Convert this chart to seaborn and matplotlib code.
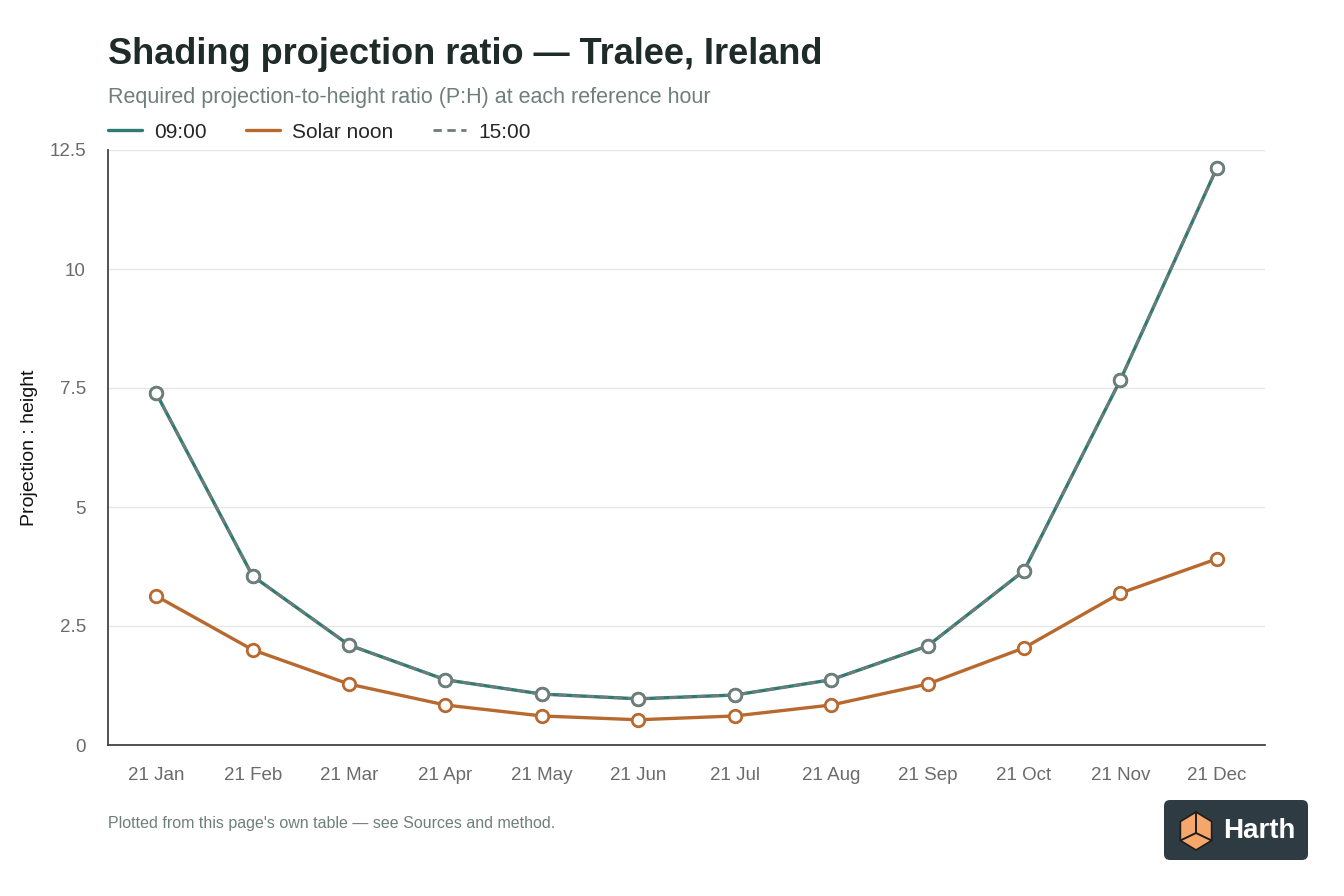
import numpy as np
import pandas as pd
import matplotlib
matplotlib.use('Agg')
import matplotlib.pyplot as plt
from matplotlib.patches import FancyBboxPatch, Polygon
from matplotlib.lines import Line2D
import seaborn as sns

sns.set_style('white')
plt.rcParams['font.family'] = ['Liberation Sans', 'DejaVu Sans']

# data
months = ['21 Jan', '21 Feb', '21 Mar', '21 Apr', '21 May', '21 Jun',
          '21 Jul', '21 Aug', '21 Sep', '21 Oct', '21 Nov', '21 Dec']
ratio_0900 = [7.39, 3.55, 2.10, 1.37, 1.07, 0.97, 1.05, 1.37, 2.08, 3.66, 7.67, 12.12]
ratio_noon = [3.13, 2.00, 1.28, 0.84, 0.61, 0.53, 0.61, 0.84, 1.28, 2.04, 3.19, 3.91]
ratio_1500 = [7.39, 3.55, 2.10, 1.37, 1.07, 0.97, 1.05, 1.37, 2.08, 3.66, 7.67, 12.12]
y_ticks = [0, 2.5, 5, 7.5, 10, 12.5]
y_labels = ['0', '2.5', '5', '7.5', '10', '12.5']

teal = '#2f7a72'
orange = '#b8692f'
grey = '#6e7d7a'
dark = '#1e2b28'
muted = '#6f7f7b'

df = pd.DataFrame({'month': months, 'x': range(len(months)),
                   '09:00': ratio_0900, 'Solar noon': ratio_noon, '15:00': ratio_1500})

fig = plt.figure(figsize=(13.44, 8.96), dpi=100)
ax = fig.add_axes([108 / 1344, 151 / 896, 1157 / 1344, 595 / 896])

mk = dict(marker='o', markersize=9, markerfacecolor='white', markeredgewidth=2)
sns.lineplot(data=df, x='x', y='09:00', ax=ax, color=teal, linewidth=2.4,
             markeredgecolor=teal, **mk)
sns.lineplot(data=df, x='x', y='Solar noon', ax=ax, color=orange, linewidth=2.4,
             markeredgecolor=orange, **mk)
sns.lineplot(data=df, x='x', y='15:00', ax=ax, color=grey, linewidth=2.0,
             linestyle=(0, (3, 2)), markeredgecolor=grey, **mk)

ax.set_xlim(-0.5, len(months) - 0.5)
ax.set_ylim(0, 12.5)
ax.set_xticks(range(len(months)))
ax.set_xticklabels(months)
ax.set_yticks(y_ticks)
ax.set_yticklabels(y_labels)
ax.tick_params(axis='both', length=0, labelsize=13.5, colors='#6b6b6b')
ax.tick_params(axis='x', pad=16)
ax.tick_params(axis='y', pad=16)
ax.set_xlabel('')
ax.set_ylabel('Projection : height', fontsize=14, color='#111111', labelpad=8)
ax.grid(axis='y', color='#e6e8e7', linewidth=1)
ax.set_axisbelow(True)
for s in ['top', 'right']:
    ax.spines[s].set_visible(False)
ax.spines['left'].set_color('#444444')
ax.spines['bottom'].set_color('#444444')
ax.spines['left'].set_linewidth(1.3)
ax.spines['bottom'].set_linewidth(1.3)

fig.text(108 / 1344, 1 - 54 / 896, 'Shading projection ratio \u2014 Tralee, Ireland',
         fontsize=26, fontweight='bold', color=dark, va='center')
fig.text(108 / 1344, 1 - 98 / 896, 'Required projection-to-height ratio (P:H) at each reference hour',
         fontsize=15.5, color=muted, va='center')
fig.text(108 / 1344, 1 - 823 / 896, "Plotted from this page's own table \u2014 see Sources and method.",
         fontsize=11.5, color='#6f7f7b', va='center')

handles = [Line2D([], [], color=teal, linewidth=2.4),
           Line2D([], [], color=orange, linewidth=2.4),
           Line2D([], [], color=grey, linewidth=2.0, linestyle=(0, (3, 2)))]
fig.legend(handles, ['09:00', 'Solar noon', '15:00'], loc='center left',
           bbox_to_anchor=(100 / 1344, 1 - 132 / 896), ncol=3, frameon=False,
           fontsize=15, handlelength=1.6, columnspacing=1.9, handletextpad=0.6,
           borderaxespad=0)

# logo badge
lax = fig.add_axes([1162 / 1344, 34 / 896, 148 / 1344, 64 / 896])
lax.set_xlim(0, 148)
lax.set_ylim(0, 64)
lax.axis('off')
lax.add_patch(FancyBboxPatch((2, 2), 144, 60, boxstyle='round,pad=0,rounding_size=6',
                             facecolor='#2f3b43', edgecolor='none'))
cx, cy, r = 34, 31, 19
ang = np.deg2rad([90, 30, -30, -90, -150, 150])
hexagon = np.column_stack([cx + r * np.cos(ang) * 0.95, cy + r * np.sin(ang)])
lax.add_patch(Polygon(hexagon, closed=True, facecolor='#f5a66a', edgecolor='#1d1d1d', linewidth=1.2))
lax.plot([cx, cx], [cy + r, cy - 2], color='#1d1d1d', linewidth=1.4)
lax.plot([hexagon[4, 0], cx, hexagon[2, 0]], [hexagon[4, 1], cy - 2, hexagon[2, 1]],
         color='#1d1d1d', linewidth=1.4)
lax.text(97, 31, 'Harth', color='white', fontsize=20, fontweight='bold',
         ha='center', va='center')

fig.savefig('out.png', dpi=100, facecolor='white')
